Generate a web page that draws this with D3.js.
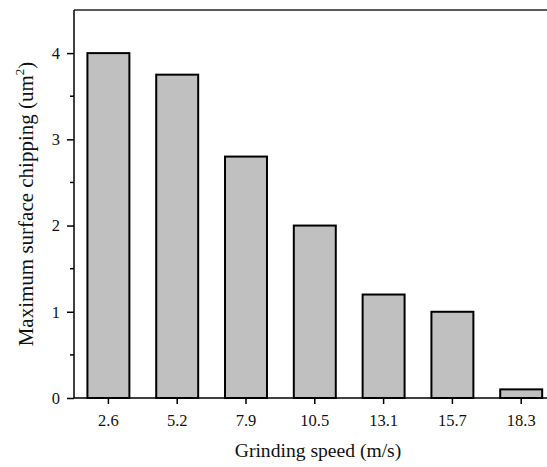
<!DOCTYPE html>
<html>
<head>
<meta charset="utf-8">
<script src="https://cdn.jsdelivr.net/npm/d3@7"></script>
<style>
  body { margin: 0; background: #fff; }
  svg { display: block; font-family: "Liberation Serif", "Times New Roman", serif; }
</style>
</head>
<body>
<svg id="chart" width="547" height="467"></svg>
<script>
var speeds = ["2.6", "5.2", "7.9", "10.5", "13.1", "15.7", "18.3"];
var chipping = [4.0, 3.75, 2.8, 2.0, 1.2, 1.0, 0.1];
var yTicks = [0, 1, 2, 3, 4];
var yMinorTicks = [0.5, 1.5, 2.5, 3.5];

var svg = d3.select("#chart");
var plotLeft = 74, plotTop = 10, plotBottom = 398;
var step = 68.8;

var x = d3.scaleBand()
  .domain(speeds)
  .range([plotLeft, plotLeft + speeds.length * step])
  .paddingInner(0.39)
  .paddingOuter(0.195);

var y = d3.scaleLinear().domain([0, 4.5]).range([plotBottom, plotTop]);

// bars
svg.selectAll("rect.bar")
  .data(chipping)
  .enter()
  .append("rect")
  .attr("class", "bar")
  .attr("x", function (d, i) { return x(speeds[i]); })
  .attr("y", function (d) { return y(d); })
  .attr("width", x.bandwidth())
  .attr("height", function (d) { return y(0) - y(d); })
  .attr("fill", "#c0c0c0")
  .attr("stroke", "black")
  .attr("stroke-width", 2);

// top frame line
svg.append("line")
  .attr("x1", plotLeft).attr("x2", 547)
  .attr("y1", plotTop).attr("y2", plotTop)
  .attr("stroke", "#222").attr("stroke-width", 1.5);

// x axis
var xAxis = svg.append("g")
  .attr("transform", "translate(0," + plotBottom + ")")
  .call(d3.axisBottom(x).tickSize(6).tickPadding(10));
xAxis.select(".domain").attr("d", "M" + plotLeft + ",0H547").attr("stroke-width", 1.5);
xAxis.selectAll(".tick line").attr("stroke-width", 1.5);
xAxis.selectAll("text").attr("font-size", 16.5).attr("font-family", "Liberation Serif").attr("fill", "#111");

// y axis
var yAxis = svg.append("g")
  .attr("transform", "translate(" + plotLeft + ",0)")
  .call(d3.axisLeft(y).tickValues(yTicks).tickFormat(d3.format("d")).tickSize(7).tickPadding(7));
yAxis.select(".domain").attr("d", "M0," + plotBottom + "V" + plotTop).attr("stroke-width", 1.5);
yAxis.selectAll(".tick line").attr("stroke-width", 1.5);
yAxis.selectAll("text").attr("font-size", 16.5).attr("font-family", "Liberation Serif").attr("fill", "#111");

svg.append("g")
  .selectAll("line")
  .data(yMinorTicks)
  .enter()
  .append("line")
  .attr("x1", plotLeft - 4).attr("x2", plotLeft)
  .attr("y1", function (d) { return y(d); })
  .attr("y2", function (d) { return y(d); })
  .attr("stroke", "black").attr("stroke-width", 1.5);

// axis titles
svg.append("text")
  .attr("x", 318).attr("y", 457)
  .attr("text-anchor", "middle")
  .attr("font-size", 19.6)
  .attr("fill", "#111")
  .text("Grinding speed (m/s)");

var yTitle = svg.append("text")
  .attr("transform", "translate(33,204) rotate(-90)")
  .attr("text-anchor", "middle")
  .attr("font-size", 21)
  .attr("fill", "#111");
yTitle.append("tspan").text("Maximum surface chipping (um");
yTitle.append("tspan").attr("font-size", 13).attr("dy", -9).text("2");
yTitle.append("tspan").attr("dy", 9).text(")");
</script>
</body>
</html>
